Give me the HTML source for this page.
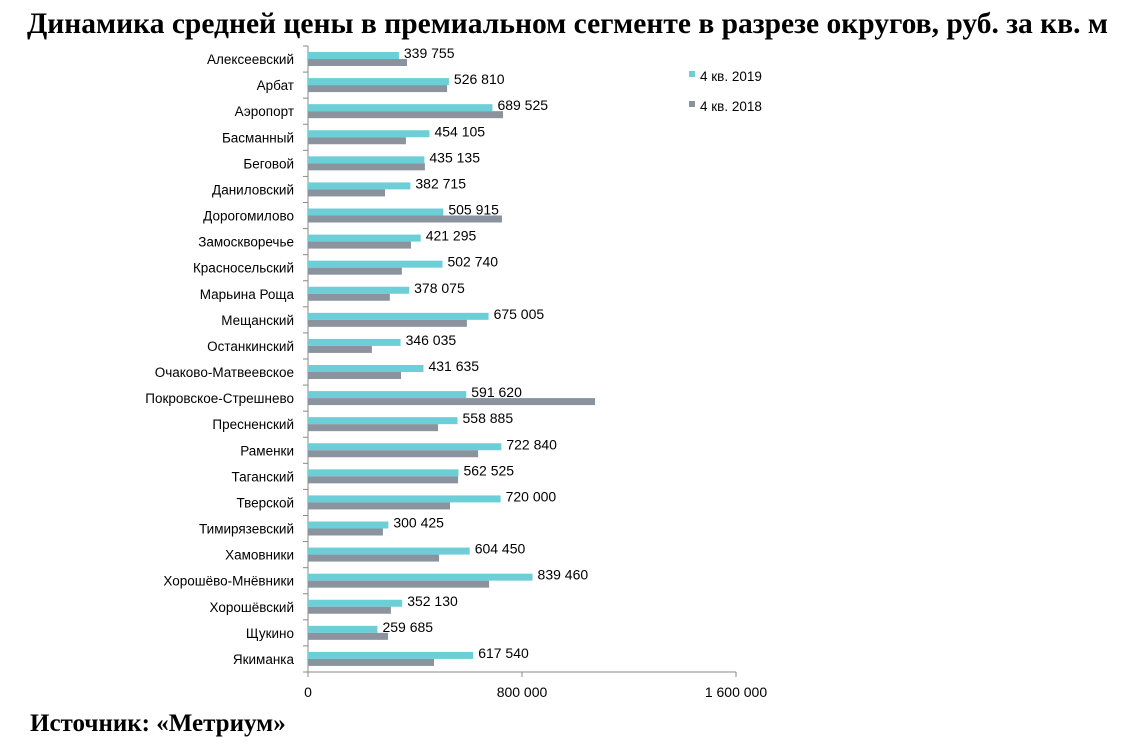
<!DOCTYPE html>
<html><head><meta charset="utf-8"><style>
body{margin:0;background:#fff;width:1135px;height:755px;overflow:hidden;font-family:"Liberation Sans",sans-serif}
#title{position:absolute;left:0;width:1135px;top:8px;text-align:center;font:bold 29.5px "Liberation Serif",serif;white-space:nowrap}
#src{position:absolute;left:30px;top:710px;font:bold 25px "Liberation Serif",serif}
</style></head><body>
<div id="title">Динамика средней цены в премиальном сегменте в разрезе округов, руб. за кв. м</div>
<svg width="1135" height="755" style="position:absolute;left:0;top:0">
<g id="g"></g>
</svg>
<div id="src">Источник: «Метриум»</div>
<script>
const categories=["Алексеевский","Арбат","Аэропорт","Басманный","Беговой","Даниловский","Дорогомилово","Замоскворечье","Красносельский","Марьина Роща","Мещанский","Останкинский","Очаково-Матвеевское","Покровское-Стрешнево","Пресненский","Раменки","Таганский","Тверской","Тимирязевский","Хамовники","Хорошёво-Мнёвники","Хорошёвский","Щукино","Якиманка"];
const values2019=[339755,526810,689525,454105,435135,382715,505915,421295,502740,378075,675005,346035,431635,591620,558885,722840,562525,720000,300425,604450,839460,352130,259685,617540];
const values2018=[370000,520000,729000,366000,437000,288000,725000,385000,351000,306000,594000,239000,348000,1073000,486000,636000,561000,531000,280000,490000,677000,310000,299000,471000];
const ticks=[0,800000,1600000];
const tickLabels=["0","800 000","1 600 000"];
const seriesNames=["4 кв. 2019","4 кв. 2018"];
const NS="http://www.w3.org/2000/svg",g=document.getElementById('g');
const x0=308,x1=736,vmax=1600000,yTop=46,yBottom=672,band=(yBottom-yTop)/categories.length;
const X=v=>x0+v/vmax*(x1-x0);
function mk(t,a,txt){const e=document.createElementNS(NS,t);for(const k in a)e.setAttribute(k,a[k]);if(txt!=null)e.textContent=txt;g.appendChild(e);return e;}
function fmt(v){return String(v).replace(/\B(?=(\d{3})+(?!\d))/g,' ');}
let ax=mk('line',{x1:x0,y1:yTop,x2:x0,y2:yBottom,stroke:'#888'});


let bx=mk('line',{x1:x0,y1:yBottom,x2:x1,y2:yBottom,stroke:'#888'});


for(let i=0;i<=categories.length;i++){mk('line',{x1:x0-5,y1:yTop+i*band,x2:x0,y2:yTop+i*band,stroke:'#888'});}
ticks.forEach((t,i)=>{mk('line',{x1:X(t),y1:yBottom,x2:X(t),y2:yBottom+5,stroke:'#888'});
 let l=mk('text',{x:X(t),y:yBottom+25,'text-anchor':'middle','font-size':14,fill:'#000'},tickLabels[i]);
 
 });
categories.forEach((c,i)=>{const y=yTop+i*band;
 let l=mk('text',{x:294,y:y+band/2+5,'text-anchor':'end','font-size':13.5,fill:'#000'},c);
 
 
 let b1=mk('rect',{x:x0,y:y+6,width:X(values2019[i])-x0,height:7,fill:'#6ccfd8'});
 
 
 let b2=mk('rect',{x:x0,y:y+13,width:X(values2018[i])-x0,height:7,fill:'#8a939e'});
 
 
 let v=mk('text',{x:X(values2019[i])+5,y:y+12,'font-size':14,fill:'#000'},fmt(values2019[i]));
 
 });
const lc=['#6ccfd8','#8a939e'];
seriesNames.forEach((s,i)=>{const y=76+i*30;
 let r=mk('rect',{x:689,y:y-5,width:6,height:6,fill:lc[i]});
 
 
 let t=mk('text',{x:700,y:y+5,'font-size':13.5,fill:'#000'},s);
 
 });
</script>
</body></html>
